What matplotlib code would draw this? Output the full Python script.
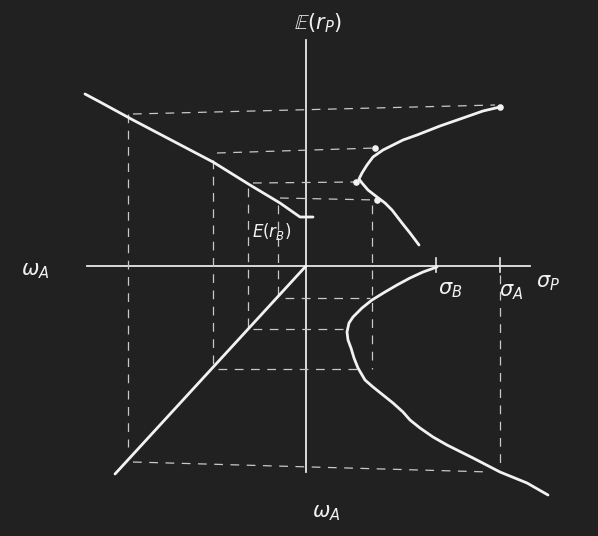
import matplotlib.pyplot as plt

# sketch coordinates, origin where the two axes cross (x right, y up)
upper_left_x = [-221, -206, -173, -93, -56, -26, -6, 7]
upper_left_y = [172, 164, 146, 104, 81, 63, 49, 49]

upper_right_x = [194, 177, 157, 134, 111, 97, 91, 77, 67, 61, 56, 53, 56, 62, 71, 79, 86, 96, 104, 113]
upper_right_y = [159, 155, 148, 140, 131, 126, 123, 116, 109, 101, 93, 87, 83, 76, 69, 63, 56, 43, 33, 21]
dots_x = [194, 69, 50, 71]
dots_y = [159, 118, 84, 66]

lower_left_x = [0, -191]
lower_left_y = [0, -208]

lower_right_x = [131, 117, 104, 91, 79, 66, 56, 47, 43, 41, 42, 45, 48, 52, 59, 67,
                 77, 87, 97, 104, 114, 127, 141, 167, 194, 221, 242]
lower_right_y = [-1, -6, -12, -19, -26, -34, -42, -51, -57, -66, -74, -82, -92, -102, -114, -121,
                 -129, -137, -146, -154, -162, -171, -179, -192, -206, -217, -229]

# dashed guide lines: (x0, y0, x1, y1)
guides = [
    (-173, 152, 189, 161),
    (-89, 113, 69, 118),
    (-53, 83, 50, 84),
    (-26, 68, 71, 66),
    (-178, 152, -178, -181),
    (-93, 106, -93, -103),
    (-58, 78, -58, -63),
    (-28, 61, -28, -32),
    (66, 61, 66, -103),
    (194, -9, 194, -199),
    (-21, -32, 64, -32),
    (-53, -63, 39, -63),
    (-88, -103, 51, -103),
    (-173, -196, 184, -206),
]

tick_x = [130, 194]

bg = '#212121'
ink = '#f2f2f2'

fig = plt.figure(figsize=(5.98, 5.36), dpi=100, facecolor=bg)
ax = fig.add_axes([0, 0, 1, 1])
ax.set_facecolor(bg)
ax.set_xlim(-306, 292)
ax.set_ylim(-270, 266)
ax.axis('off')

# axes
ax.plot([-219, 224], [0, 0], color='#e8e8e8', lw=1.3)
ax.plot([0, 0], [-206, 226], color='#e8e8e8', lw=1.3)
for t in tick_x:
    ax.plot([t, t], [-6, 8], color='#e8e8e8', lw=1.2)

for x0, y0, x1, y1 in guides:
    ax.plot([x0, x1], [y0, y1], color='#c8c8c8', lw=0.9, dashes=(7, 6))

kw = dict(color=ink, lw=2.0, solid_capstyle='round', solid_joinstyle='round')
ax.plot(upper_left_x, upper_left_y, **kw)
ax.plot(upper_right_x, upper_right_y, **kw)
ax.plot(lower_left_x, lower_left_y, **kw)
ax.plot(lower_right_x, lower_right_y, **kw)
ax.scatter(dots_x, dots_y, s=14, color=ink, zorder=3)

tk = dict(color=ink, fontsize=15, ha='center', va='center')
ax.text(12, 243, r'$\mathbb{E}(r_P)$', **tk)
ax.text(-34, 34, r'$E(r_B)$', color=ink, fontsize=12, ha='center', va='center')
ax.text(-271, -5, r'$\omega_A$', **tk)
ax.text(20, -247, r'$\omega_A$', **tk)
ax.text(144, -24, r'$\sigma_B$', **tk)
ax.text(205, -26, r'$\sigma_A$', **tk)
ax.text(242, -17, r'$\sigma_P$', **tk)

plt.savefig('out.png', dpi=100, facecolor=bg)
